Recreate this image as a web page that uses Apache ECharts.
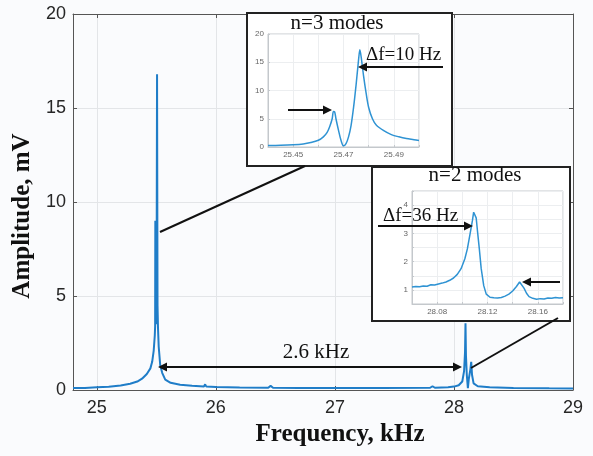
<!DOCTYPE html>
<html><head><meta charset="utf-8">
<script src="https://cdn.jsdelivr.net/npm/echarts@6/dist/echarts.min.js"></script>
<style>html,body{margin:0;padding:0;background:#fafbfd}#c{width:593px;height:456px}</style>
</head><body><div id="c"></div>
<script>
// ---- data (frequency kHz, amplitude mV) ----
const mainSpectrum = [
 [24.80,0.10],[24.90,0.11],[25.00,0.14],[25.10,0.17],[25.20,0.24],[25.28,0.33],[25.34,0.45],[25.38,0.6],
 [25.42,0.85],[25.45,1.15],[25.465,1.5],[25.478,2.1],[25.487,2.9],[25.490,3.4],[25.4915,9.0],[25.493,4.0],
 [25.497,3.5],[25.502,5.0],[25.506,16.8],[25.510,4.5],[25.514,3.3],[25.520,2.3],[25.533,1.3],[25.55,0.9],
 [25.575,0.55],[25.62,0.38],[25.70,0.28],[25.80,0.22],[25.90,0.19],[25.91,0.3],[25.92,0.18],[26.00,0.16],
 [26.20,0.13],[26.44,0.12],[26.46,0.22],[26.48,0.12],[26.70,0.1],[27.00,0.1],[27.40,0.1],[27.80,0.12],
 [27.82,0.2],[27.84,0.12],[27.95,0.15],[28.00,0.18],[28.04,0.25],[28.07,0.45],[28.085,1.0],[28.093,2.0],
 [28.097,3.55],[28.101,1.8],[28.108,0.8],[28.117,0.1],[28.125,0.6],[28.138,1.1],[28.145,1.5],[28.152,0.8],
 [28.165,0.35],[28.20,0.2],[28.30,0.14],[28.50,0.11],[28.80,0.09],[29.00,0.08]
];
const inset3Modes = [
 [25.440,0.25],[25.445,0.3],[25.450,0.4],[25.454,0.55],[25.457,0.8],[25.460,1.2],[25.462,1.8],[25.4635,2.6],
 [25.4645,3.6],[25.4655,5.0],[25.466,6.3],[25.4665,6.2],[25.467,5.0],[25.468,3.0],[25.469,1.2],[25.470,0.2],
 [25.471,0.6],[25.472,1.8],[25.473,3.8],[25.474,7.0],[25.475,11.0],[25.476,15.5],[25.4765,17.2],[25.477,16.0],
 [25.478,12.5],[25.479,9.5],[25.480,7.0],[25.4815,5.0],[25.483,3.9],[25.486,2.9],[25.489,2.2],[25.492,1.8],
 [25.495,1.5],[25.498,1.3],[25.500,1.15]
];
const inset2Modes = [
 [28.060,1.10],[28.063,1.12],[28.066,1.11],[28.069,1.14],[28.072,1.13],[28.075,1.18],[28.078,1.17],[28.081,1.21],
 [28.084,1.24],[28.087,1.28],[28.090,1.34],[28.093,1.42],[28.096,1.55],[28.099,1.75],[28.102,2.10],[28.104,2.45],
 [28.106,2.95],[28.108,3.45],[28.109,3.75],[28.110,3.72],[28.111,3.55],[28.112,3.10],[28.1135,2.45],[28.115,1.75],
 [28.117,1.15],[28.119,0.85],[28.122,0.74],[28.125,0.72],[28.128,0.71],[28.131,0.73],[28.134,0.78],[28.137,0.85],
 [28.140,0.96],[28.143,1.12],[28.1455,1.28],[28.147,1.27],[28.149,1.06],[28.151,0.88],[28.153,0.76],[28.156,0.70],
 [28.159,0.67],[28.162,0.69],[28.165,0.68],[28.168,0.71],[28.171,0.70],[28.174,0.73],[28.177,0.71],[28.180,0.72]
];
const mainXLabels = ['25','26','27','28','29'];
const mainYLabels = ['0','5','10','15','20'];
const inset3XLabels = ['25.45','25.47','25.49'];
const inset3YLabels = ['0','5','10','15','20'];
const inset2XLabels = ['28.08','28.12','28.16'];
const inset2YLabels = ['1','2','3','4'];

const chart = echarts.init(document.getElementById('c'));
const serif = 'Liberation Serif, Times New Roman, serif';
const sans = 'Liberation Sans, Arial, sans-serif';
const pick = (list, d) => v => { const s = Number(v).toFixed(d); return list.includes(s) ? s : ''; };
const pickInt = list => v => { const s = String(Math.round(v*1000)/1000); return list.includes(s) ? s : ''; };

function arrow(x1,y1,x2,y2){
  const dx=x2-x1, dy=y2-y1, L=Math.hypot(dx,dy), ux=dx/L, uy=dy/L, h=9, w=4.5;
  const bx=x2-ux*h, by=y2-uy*h;
  return [
    {type:'line',z:20,shape:{x1:x1,y1:y1,x2:bx,y2:by},style:{stroke:'#111',lineWidth:2}},
    {type:'polygon',z:20,shape:{points:[[x2,y2],[bx-uy*w,by+ux*w],[bx+uy*w,by-ux*w]]},style:{fill:'#111'}}
  ];
}
const g = [
  {type:'rect',z:1,shape:{x:247,y:13,width:205,height:153},style:{fill:'#fff',stroke:'#222',lineWidth:2}},
  {type:'rect',z:1,shape:{x:372,y:167,width:198,height:154},style:{fill:'#fff',stroke:'#222',lineWidth:2}},
  {type:'text',z:20,x:337,y:23,style:{text:'n=3 modes',font:'21px '+serif,fill:'#111',textAlign:'center',textVerticalAlign:'middle'}},
  {type:'text',z:20,x:475,y:175,style:{text:'n=2 modes',font:'21px '+serif,fill:'#111',textAlign:'center',textVerticalAlign:'middle'}},
  {type:'text',z:20,x:366,y:55,style:{text:'Δf=10 Hz',font:'19px '+serif,fill:'#111',textAlign:'left',textVerticalAlign:'middle'}},
  {type:'text',z:20,x:383,y:216,style:{text:'Δf=36 Hz',font:'19px '+serif,fill:'#111',textAlign:'left',textVerticalAlign:'middle'}},
  {type:'text',z:20,x:316,y:352,style:{text:'2.6 kHz',font:'21px '+serif,fill:'#111',textAlign:'center',textVerticalAlign:'middle'}},
  {type:'line',z:20,shape:{x1:160,y1:232,x2:305,y2:166},style:{stroke:'#111',lineWidth:2}},
  {type:'line',z:20,shape:{x1:471,y1:368,x2:558,y2:318},style:{stroke:'#111',lineWidth:2}},
  ...arrow(288,110,332,110),
  ...arrow(443,67,358,67),
  ...arrow(378,226,473,226),
  ...arrow(560,282,522,282),
  ...arrow(310,367,158,367),
  ...arrow(310,367,462,367)
];

const insetAxisCommon = {
  z:3,
  axisLine:{show:true,lineStyle:{color:'#c4c8cc',width:1}},
  axisTick:{show:true,inside:true,length:2,lineStyle:{color:'#c4c8cc'}},
  splitLine:{show:true,lineStyle:{color:'#eceef0',width:1}},
  axisLabel:{fontSize:8,color:'#666',fontFamily:sans,margin:4}
};

chart.setOption({
  backgroundColor:'#fafbfd',
  animation:false,
  grid:[
    {left:73,right:20,top:14,bottom:66},
    {left:268,top:34,width:151,height:113,show:true,z:2,backgroundColor:'#fff',borderColor:'#c4c8cc',borderWidth:1},
    {left:412,top:191,width:151,height:113,show:true,z:2,backgroundColor:'#fff',borderColor:'#c4c8cc',borderWidth:1}
  ],
  xAxis:[
    {type:'value',gridIndex:0,min:24.8,max:29,minInterval:1,maxInterval:1,z:0,
     name:'Frequency, kHz',nameLocation:'middle',nameGap:32,
     nameTextStyle:{fontFamily:serif,fontWeight:'bold',fontSize:25,color:'#111',padding:[0,0,0,34]},
     axisLine:{show:true,onZero:false,lineStyle:{color:'#555',width:1}},
     axisTick:{show:true,inside:true,length:4,lineStyle:{color:'#555'}},
     splitLine:{show:true,lineStyle:{color:'#e3e5e8'}},
     axisLabel:{fontSize:18,color:'#262626',fontFamily:sans,margin:9,showMinLabel:false,formatter:pick(mainXLabels,0)}},
    {type:'value',gridIndex:0,position:'top',min:24.8,max:29,minInterval:1,maxInterval:1,z:0,
     axisLine:{show:true,onZero:false,lineStyle:{color:'#555',width:1}},
     axisTick:{show:true,inside:true,length:4,lineStyle:{color:'#555'}},
     splitLine:{show:false},axisLabel:{show:false}},
    Object.assign({type:'value',gridIndex:1,min:25.44,max:25.50,interval:0.01},insetAxisCommon,
     {axisLabel:Object.assign({},insetAxisCommon.axisLabel,{formatter:pick(inset3XLabels,2)})}),
    Object.assign({type:'value',gridIndex:2,min:28.06,max:28.18,interval:0.02},insetAxisCommon,
     {axisLabel:Object.assign({},insetAxisCommon.axisLabel,{formatter:pick(inset2XLabels,2)})})
  ],
  yAxis:[
    {type:'value',gridIndex:0,min:0,max:20,interval:5,z:0,
     name:'Amplitude, mV',nameLocation:'middle',nameGap:33,
     nameTextStyle:{fontFamily:serif,fontWeight:'bold',fontSize:25,color:'#111',padding:[0,28,0,0]},
     axisLine:{show:true,onZero:false,lineStyle:{color:'#555',width:1}},
     axisTick:{show:true,inside:true,length:4,lineStyle:{color:'#555'}},
     splitLine:{show:true,lineStyle:{color:'#e3e5e8'}},
     axisLabel:{fontSize:18,color:'#262626',fontFamily:sans,margin:7,formatter:pickInt(mainYLabels)}},
    {type:'value',gridIndex:0,position:'right',min:0,max:20,interval:5,z:0,
     axisLine:{show:true,onZero:false,lineStyle:{color:'#555',width:1}},
     axisTick:{show:true,inside:true,length:4,lineStyle:{color:'#555'}},
     splitLine:{show:false},axisLabel:{show:false}},
    Object.assign({type:'value',gridIndex:1,min:0,max:20,interval:5},insetAxisCommon,
     {axisLabel:Object.assign({},insetAxisCommon.axisLabel,{formatter:pickInt(inset3YLabels)})}),
    Object.assign({type:'value',gridIndex:2,min:0.5,max:4.5,interval:0.5},insetAxisCommon,
     {axisLabel:Object.assign({},insetAxisCommon.axisLabel,{formatter:pickInt(inset2YLabels)})})
  ],
  series:[
    {type:'line',xAxisIndex:0,yAxisIndex:0,data:mainSpectrum,showSymbol:false,z:2,
     lineStyle:{color:'#1f7dc8',width:2}},
    {type:'line',xAxisIndex:2,yAxisIndex:2,data:inset3Modes,showSymbol:false,z:4,smooth:0.3,
     lineStyle:{color:'#2f93d3',width:1.5}},
    {type:'line',xAxisIndex:3,yAxisIndex:3,data:inset2Modes,showSymbol:false,z:4,
     lineStyle:{color:'#2f93d3',width:1.5}}
  ],
  graphic:g
});
</script></body></html>
